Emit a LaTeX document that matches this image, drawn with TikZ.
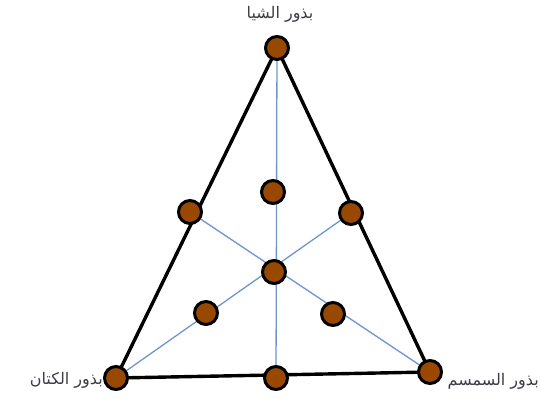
\documentclass[tikz,border=0pt]{standalone}
\usepackage{fontspec}
\newfontfamily\arabicfont[Script=Arabic]{DejaVu Sans}
\TeXXeTstate=1
\usetikzlibrary{arrows.meta}
\definecolor{seed}{RGB}{153,72,0}
\definecolor{bluel}{RGB}{110,150,205}
\definecolor{txt}{RGB}{60,60,70}
\begin{document}
\begin{tikzpicture}[x=1pt,y=-1pt,
  dot/.style={circle,draw=black,line width=3pt,fill=seed,minimum size=23pt,inner sep=0pt},
  edge/.style={line width=3.4pt,black},
  med/.style={line width=1.3pt,bluel},
  medarr/.style={med,-{Straight Barb[length=3pt,width=5pt]}},
  lbl/.style={font=\arabicfont\fontsize{16}{19}\selectfont,text=txt,inner sep=1pt}]
\useasboundingbox (0,0) rectangle (541,399);
\coordinate (A) at (277,48);
\coordinate (B) at (116,378);
\coordinate (C) at (430,372);
\coordinate (MAB) at (190,212);
\coordinate (MAC) at (351,213);
\coordinate (MBC) at (276,378);
\coordinate (G) at (274,272);
% medians
\draw[med] (A) -- (MBC);
\draw[medarr] (B) -- (MAC);
\draw[medarr] (C) -- (MAB);
% triangle
\draw[edge,line join=round] (A) -- (B) -- (C) -- cycle;
% dots
\node[dot] (nA) at (A) {};
\node[dot] (nB) at (B) {};
\node[dot] (nC) at (C) {};
\node[dot] (nMAB) at (MAB) {};
\node[dot] (nMAC) at (MAC) {};
\node[dot] (nMBC) at (MBC) {};
\node[dot] (nG) at (G) {};
\node[dot] (nI1) at (273,192) {};
\node[dot] (nI2) at (206,313) {};
\node[dot] (nI3) at (333,314) {};
% labels
\node[lbl] (lA) at (280,14) {\beginR بذور الشيا\endR};
\node[lbl,anchor=east] (lB) at (104,380) {\beginR بذور الكتان\endR};
\node[lbl,anchor=east] (lC) at (540,381) {\beginR بذور السمسم\endR};
\end{tikzpicture}
\end{document}
